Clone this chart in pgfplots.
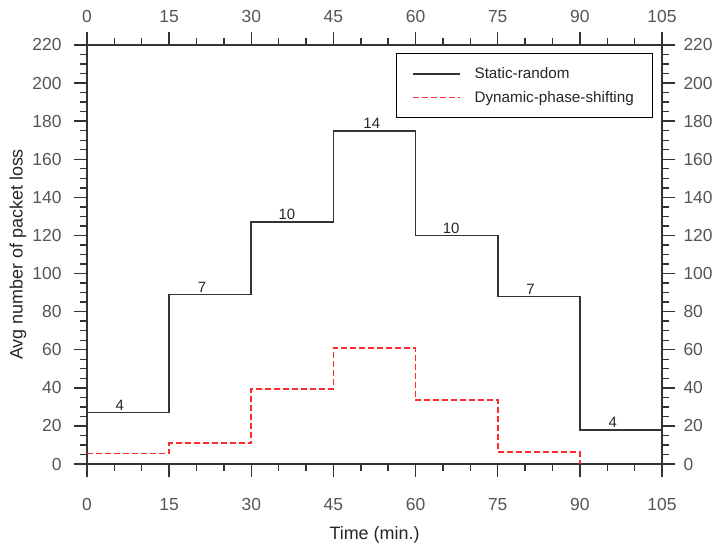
\documentclass[border=0pt]{standalone}
\usepackage{pgfplots}
\pgfplotsset{compat=1.18}
\usepackage{fontspec}
\setmainfont{Liberation Sans}
\definecolor{tickgray}{HTML}{555555}
\definecolor{axgray}{HTML}{333333}
\definecolor{lred}{HTML}{FF2A2A}
\begin{document}
\begin{tikzpicture}
\path[use as bounding box] (-87bp,-88bp) rectangle (628bp,464bp);
\pgfplotsset{myax/.style={
  width=575bp, height=419bp, scale only axis,
  xmin=0, xmax=105, ymin=0, ymax=220,
  xtick={0,15,...,105}, ytick={0,20,...,220},
  minor x tick num=2, minor y tick num=3,
  tick align=outside, major tick length=13bp, minor tick length=7bp,
  axis line style={axgray, line width=1.6bp},
  every tick/.style={axgray, line width=1.4bp},
  ticklabel style={font=\fontsize{17.5}{20}\selectfont, text=tickgray},
  /pgf/number format/assume math mode=true,
  clip=false,
}}
\begin{axis}[myax,
  xlabel={Time (min.)}, ylabel={Avg number of packet loss},
  xlabel style={font=\fontsize{18}{20}\selectfont, text=black!85, at={(axis description cs:0.5,-0.1695)}, anchor=center},
  ylabel style={font=\fontsize{18}{20}\selectfont, text=black!85, at={(axis description cs:-0.12,0.5)}, anchor=center},
  xticklabel style={yshift=-18bp},
  yticklabel style={xshift=-9bp},
  legend style={at={(axis description cs:1,1)}, anchor=north east, xshift=-9bp, yshift=-8bp,
    draw=black, line width=1.3bp, font=\fontsize{15.3}{17}\selectfont,
    inner xsep=15.5bp, inner ysep=11bp, row sep=5bp,
    nodes={inner sep=3bp, text=black!85},
    /tikz/every odd column/.append style={column sep=11bp}},
  legend cell align=left,
  legend image code/.code={\draw[#1] (0bp,0bp) -- (47bp,0bp);},
]
\addplot[axgray, line width=1.6bp, const plot] coordinates {(0,27) (15,89) (30,127) (45,175) (60,120) (75,88) (90,18) (105,18)};
\addlegendentry{Static-random}
\addplot[lred, line width=1.6bp, const plot, dash pattern=on 6bp off 3bp] coordinates {(0,5.5) (15,11) (30,39.5) (45,61) (60,33.5) (75,6.4) (90,0)};
\addlegendentry{Dynamic-phase-shifting}
\addplot[draw=none, forget plot, nodes near coords, point meta=explicit symbolic,
  nodes near coords style={font=\fontsize{15}{17}\selectfont, anchor=south, inner sep=2bp, text=black!85}]
  coordinates {(6,27)[4] (21,89)[7] (36.5,127)[10] (52,175)[14] (66.5,120)[10] (81,88)[7] (96,18)[4]};
\end{axis}
\begin{axis}[myax, axis x line*=top, axis y line*=right,
  xticklabel style={yshift=6bp},
  yticklabel style={xshift=5bp},
]
\end{axis}
\end{tikzpicture}
\end{document}
